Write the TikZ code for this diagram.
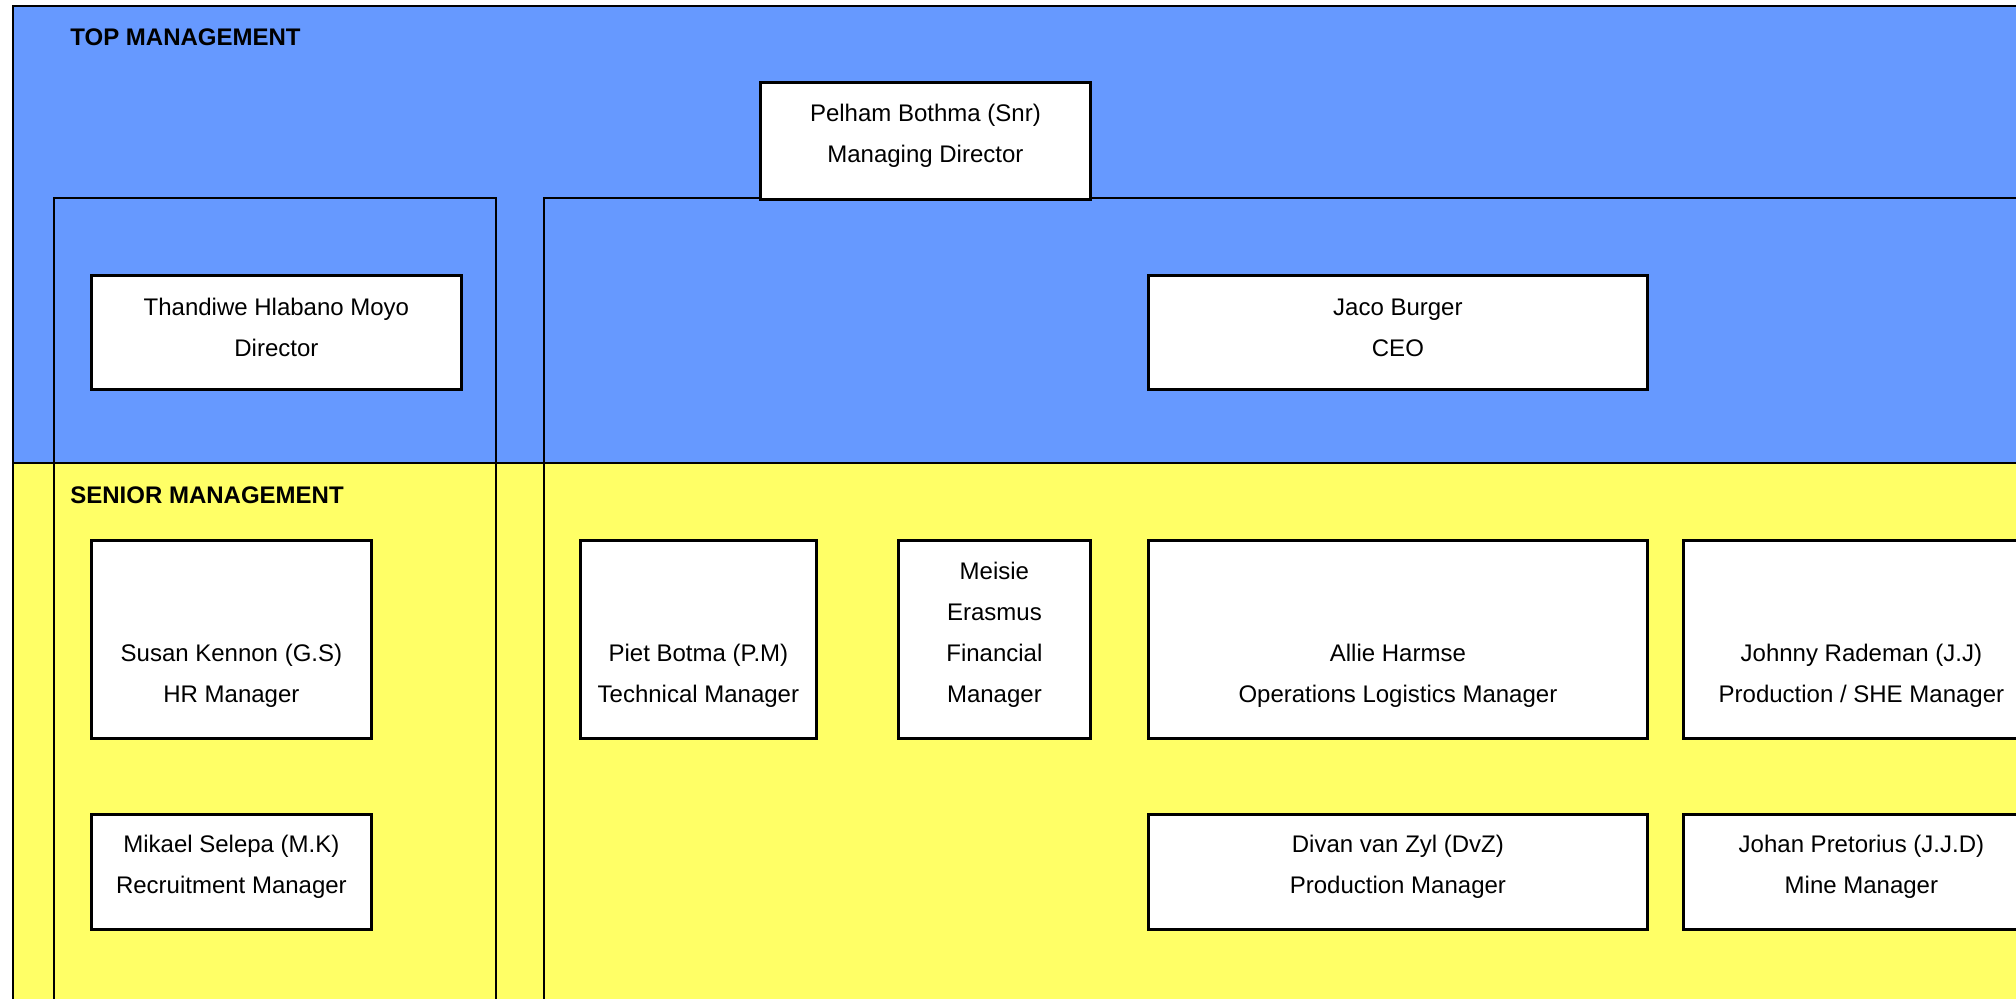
\documentclass[tikz,border=0pt]{standalone}
\usepackage{fontspec}
\setmainfont{Liberation Sans}
\definecolor{topblue}{HTML}{6699FF}
\definecolor{senyellow}{HTML}{FFFF66}
\begin{document}
\begin{tikzpicture}[x=0.5pt,y=-0.5pt, line width=1.4pt,
  orgbox/.style={draw=black, fill=white, line width=1.4pt, inner sep=0pt, anchor=north west},
  orgtext/.style={align=center, font=\fontsize{12}{20.5}\selectfont, inner sep=0pt},
  bandlabel/.style={font=\bfseries\fontsize{12}{14}\selectfont, anchor=west, inner sep=0pt}]
\useasboundingbox (0,0) rectangle (2016,999);
\clip (0,0) rectangle (2016,999);
% bands
\fill[topblue] (13,6) rectangle (2060,463);
\fill[senyellow] (13,463) rectangle (2060,1020);
\draw (13,1020) -- (13,6) -- (2060,6);
\draw (13,463) -- (2060,463);
% group frames
\draw (54,1020) -- (54,198) -- (496,198) -- (496,1020);
\draw (544,1020) -- (544,198) -- (2060,198);
% band labels
\node[bandlabel] (toplabel) at (69,37) {TOP MANAGEMENT};
\node[bandlabel] (senlabel) at (69,495) {SENIOR MANAGEMENT};
% boxes
\node[orgbox, minimum width=165pt, minimum height=58.5pt] (pelham) at (759,81) {};
\node[orgbox, minimum width=185pt, minimum height=57pt] (thandiwe) at (90,274) {};
\node[orgbox, minimum width=249.5pt, minimum height=57pt] (jaco) at (1147,274) {};
\node[orgbox, minimum width=140pt, minimum height=99pt] (susan) at (90,539) {};
\node[orgbox, minimum width=118pt, minimum height=99pt] (piet) at (579,539) {};
\node[orgbox, minimum width=96pt, minimum height=99pt] (meisie) at (897,539) {};
\node[orgbox, minimum width=249.5pt, minimum height=99pt] (allie) at (1147,539) {};
\node[orgbox, minimum width=178pt, minimum height=99pt] (johnny) at (1682,539) {};
\node[orgbox, minimum width=140pt, minimum height=57.5pt] (mikael) at (90,813) {};
\node[orgbox, minimum width=249.5pt, minimum height=57.5pt] (divan) at (1147,813) {};
\node[orgbox, minimum width=178pt, minimum height=57.5pt] (johan) at (1682,813) {};
% texts
\node[orgtext] (pelhamT) at ([yshift=2.5pt]pelham.center) {Pelham Bothma (Snr)\\Managing Director};
\node[orgtext] (thandiweT) at ([yshift=2.5pt]thandiwe.center) {Thandiwe Hlabano Moyo\\Director};
\node[orgtext] (jacoT) at ([yshift=2.5pt]jaco.center) {Jaco Burger\\CEO};
\node[orgtext] (susanT) at ([yshift=-18pt]susan.center) {Susan Kennon (G.S)\\HR Manager};
\node[orgtext] (pietT) at ([yshift=-18pt]piet.center) {Piet Botma (P.M)\\Technical Manager};
\node[orgtext] (meisieT) at ([yshift=2.5pt]meisie.center) {Meisie\\Erasmus\\Financial\\Manager};
\node[orgtext] (allieT) at ([yshift=-18pt]allie.center) {Allie Harmse\\Operations Logistics Manager};
\node[orgtext] (johnnyT) at ([yshift=-18pt]johnny.center) {Johnny Rademan (J.J)\\Production / SHE Manager};
\node[orgtext] (mikaelT) at ([yshift=2.5pt]mikael.center) {Mikael Selepa (M.K)\\Recruitment Manager};
\node[orgtext] (divanT) at ([yshift=2.5pt]divan.center) {Divan van Zyl (DvZ)\\Production Manager};
\node[orgtext] (johanT) at ([yshift=2.5pt]johan.center) {Johan Pretorius (J.J.D)\\Mine Manager};
\end{tikzpicture}
\end{document}
